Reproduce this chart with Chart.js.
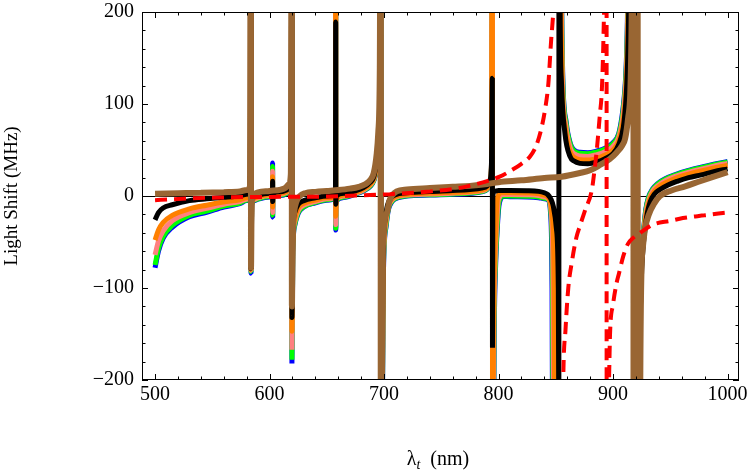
<!DOCTYPE html>
<html>
<head>
<meta charset="utf-8">
<script src="https://cdn.jsdelivr.net/npm/chart.js@4.4.1/dist/chart.umd.min.js"></script>
<style>
  html, body { margin: 0; padding: 0; background: #fff; }
  #wrap { width: 750px; height: 472px; position: relative; }
</style>
</head>
<body>
<div id="wrap"><canvas id="plot"></canvas></div>
<script>
const SERIF = "'Liberation Serif', 'Times New Roman', serif";

// axis ranges and tick labels
const xRange = [488.6, 1010];
const yRange = [-200, 200];
const xTicks = [500, 600, 700, 800, 900, 1000];
const yTicks = [-200, -100, 0, 100, 200];
const minorStep = 20;

// [wavelength nm, light shift MHz]
const redDashed = [
  [500, -4.5], [515, -3.5], [533, -2.5], [560, -1.5], [600, -1], [653, -0.5], [676, 0.5],
  [705, 2], [740, 5], [765, 8.5], [781, 13], [792, 17], [801, 21], [810, 27], [820, 35],
  [827.5, 43], [833, 55], [837.7, 75], [841, 97], [843.5, 122], [846.4, 177], [847.9, 200],
  [850, 400], [851.5, 3000], [852.2, null], [853.5, -3000], [855, -500], [856.5, -200],
  [858.5, -145], [860.9, -100], [864, -72], [868, -45], [871.2, -32], [876, -14], [881.4, 6],
  [884, 30], [885.8, 50], [888.6, 90], [890, 110], [891.2, 150], [892.2, 200], [893.5, 400],
  [894.3, 3000], [894.45, -3000], [895.5, -400], [896.5, -200], [897.4, -149], [900, -118],
  [903.2, -94], [905, -85], [909, -65], [913, -52], [918, -45], [923.6, -40], [935, -31],
  [950, -27], [961, -24], [980, -21], [996, -18.5], [1000, -18]
];

const brownLine = [
  [500, 2.5], [520, 3], [540, 3.5], [560, 4.2], [574, 5], [580, 6.5], [582.8, 10], [583.7, 400],
  [583.8, -78], [584.4, -6], [586, 1.5], [590, 4], [600, 5.5], [610, 7], [614, 9], [617, 13],
  [618.6, 24], [619.4, 400], [619.5, -120], [620.2, -45], [621.5, -18], [623.5, -6], [626.5, 0],
  [631, 3], [640, 4.5], [650, 5.5], [660, 6.5], [670, 8], [678, 10], [684, 13], [688, 17.5],
  [691, 25], [693.5, 45], [695, 70], [696.3, 140], [697, 400], [697.15, -400], [698.9, -58],
  [702.4, -18.5], [704.5, -6], [706.7, 0], [711, 5], [720, 7], [740, 8.6], [760, 10], [775, 11],
  [790, 13], [800, 15], [820, 17], [840, 19.5], [855, 21], [871, 25], [880, 28], [889, 34],
  [897, 40], [903, 47], [908, 55], [910.5, 62], [913.3, 86], [915, 110], [916.3, 200],
  [917.2, 600], [917.8, 3000], [917.9, -3000], [921.3, -3000], [921.45, 3000], [921.6, -3000],
  [923.8, -196], [925.7, -60], [928, -35], [931, -21], [936, -8], [941, 0], [951, 6],
  [963, 10.5], [976, 16], [988, 21], [1000, 26]
];

const blackLine = [
  [500, -26], [503, -18], [507, -13], [515, -9.5], [530, -5], [545, -3], [560, -1.5], [574, 0.3],
  [580, 1.8], [583.2, 4], [583.75, 400], [583.85, -79], [584.4, -4], [586, -1], [590, 1],
  [600, 3], [602.6, 5], [602.65, 16], [602.75, -6], [602.9, 3], [610, 4.5], [615, 6.5],
  [617.8, 10], [618.9, 20], [619.45, 400], [619.55, -132], [620.3, -40], [622, -18], [625, -9],
  [630, -5], [640, -2], [650, 0], [657.6, 2], [657.75, 189], [657.85, -9], [658.2, 0], [665, 3],
  [675, 5.5], [682, 9], [688, 15], [691, 21], [693.6, 38], [695.2, 65], [696.4, 140],
  [697.05, 400], [697.2, -400], [699, -70], [701, -25], [703, -10], [706, -2], [710, 1.5],
  [720, 3.5], [740, 5], [760, 6], [775, 7], [785, 8.5], [790, 11], [792.5, 17], [793.8, 35],
  [794.6, 128], [794.7, -165], [795, 0], [796.5, 5], [800, 6], [810, 6], [825, 5.8], [835, 5],
  [840, 3.5], [843, 1.5], [846, -4], [847.8, -11], [850.5, -35], [852.2, -100], [852.5, -200],
  [852.65, -400], [852.75, 400], [853.2, 400], [853.8, 200], [855, 122], [858, 68], [862.4, 43],
  [866, 38], [871, 35.5], [878, 35], [886, 37], [893, 40.5], [900, 46], [905, 56], [909, 75],
  [911, 100], [912, 122], [913.3, 177], [914, 250], [915.5, 700], [916, null], [922.6, -400],
  [923.2, -200], [924.5, -100], [926, -60], [928, -35], [930, -18], [932.5, -6], [936, 2],
  [941, 7], [948, 12], [956, 16], [966, 20], [977, 23], [988, 26.5], [1000, 29.5]
];

const orangeLine = [
  [500, -48], [503, -37], [507, -29], [515, -21], [530, -14], [545, -10], [560, -6.5], [574, -4],
  [580, -2], [583.2, 2], [583.75, 400], [583.85, -80], [584.4, -6], [586, -2.5], [590, -1],
  [600, 1.5], [602.6, 3], [602.65, 21], [602.75, -12], [602.9, 1.5], [610, 3], [615, 5],
  [617.8, 8.5], [618.9, 18], [619.45, 400], [619.55, -147], [620.3, -50], [622, -25], [625, -13],
  [630, -8], [640, -4.5], [650, -2], [657.6, 0.5], [657.75, 400], [657.85, -22], [658.2, -3],
  [665, 1], [675, 4], [682, 7.5], [688, 13], [691, 19], [693.8, 36], [695.4, 62], [696.6, 135],
  [697.1, 400], [697.25, -400], [699.2, -75], [701.3, -28], [703.3, -12], [706.3, -4],
  [710, -0.5], [720, 1.8], [740, 3.2], [760, 4], [775, 5], [785, 6.5], [790, 9], [792.5, 15],
  [793.8, 32], [794.6, 400], [794.75, -400], [795.5, -150], [796.5, -70], [797.7, -33],
  [798.8, -5], [800, 1], [802.6, 3.5], [810, 3.5], [825, 3.3], [835, 2.5], [840, 1], [843, -1],
  [846.8, -20], [848, -50], [848.5, -100], [848.8, -200], [849.1, -400], [850, null],
  [853.6, 400], [854.6, 200], [855.5, 122], [858.5, 72], [862.5, 48], [866, 42], [871, 39.5],
  [878, 39], [886, 41], [893, 44.5], [900, 50], [905, 60], [908.7, 80], [910.8, 105],
  [911.8, 128], [913, 180], [913.8, 260], [915, 600], [916, null], [922.4, -400], [922.8, -200],
  [924.2, -100], [925.6, -60], [927.5, -35], [929.5, -17], [932, -4], [935.5, 4], [940, 10],
  [947, 15], [955, 19.5], [965, 23.5], [976, 27], [988, 30.5], [1000, 33.5]
];

const pinkLine = [
  [500, -64], [503, -49], [507, -38], [515, -27], [530, -18], [545, -13.5], [560, -9], [574, -6],
  [580, -3.5], [583.2, 0.5], [583.75, 400], [583.85, -81], [584.4, -8], [586, -4], [590, -2],
  [600, 0.5], [602.6, 2], [602.65, 27], [602.75, -18], [602.9, 0.5], [610, 2], [615, 4],
  [617.8, 7.5], [618.9, 16], [619.45, 400], [619.55, -167], [620.3, -55], [622, -28], [625, -16],
  [630, -10], [640, -6], [650, -3], [657.6, -0.5], [657.75, 400], [657.85, -31], [658.2, -4],
  [665, 0], [675, 3], [682, 6.5], [688, 12], [691, 18], [693.9, 35], [695.5, 60], [696.7, 130],
  [697.15, 400], [697.3, -400], [699.3, -78], [701.5, -30], [703.5, -13], [706.5, -5],
  [710, -1.5], [720, 1], [740, 2.2], [760, 3], [775, 4], [785, 5.5], [790, 8], [792.5, 14],
  [793.8, 30], [794.6, 400], [794.8, -400], [795.8, -150], [797, -70], [798.3, -33],
  [799.5, -8], [801, -1], [803.5, 1.5], [810, 1.5], [825, 1.3], [835, 0.5], [840, -1],
  [843, -2.5], [846.2, -20], [847.1, -50], [847.6, -100], [847.9, -200], [848.2, -400],
  [850, null], [853.9, 400], [854.9, 200], [855.8, 125], [858.8, 76], [862.7, 52], [866, 46],
  [871, 43.5], [878, 43], [886, 45], [893, 48], [900, 54], [905, 64], [908.5, 85], [910.5, 110],
  [911.6, 132], [912.8, 185], [913.6, 270], [915, 700], [916, null], [922.2, -400],
  [922.6, -200], [924, -100], [925.3, -60], [927.2, -35], [929, -16], [931.5, -3], [935, 6],
  [939.5, 11.5], [946, 17], [955, 21.5], [965, 25.5], [976, 29], [988, 32.5], [1000, 35.5]
];

const greenLine = [
  [500, -75], [503, -57], [507, -44], [515, -32], [530, -21], [545, -16.5], [560, -11],
  [574, -7.6], [580, -4.5], [583.2, -0.5], [583.75, 400], [583.85, -82], [584.4, -9], [586, -5],
  [590, -3], [600, -0.5], [602.6, 1], [602.65, 32], [602.75, -21], [602.9, -0.5], [610, 1],
  [615, 3], [617.8, 6.5], [618.9, 15], [619.45, 400], [619.55, -178], [620.3, -60], [622, -31],
  [625, -18], [630, -11.5], [640, -7], [650, -4], [657.6, -1.5], [657.75, 400], [657.85, -35],
  [658.2, -5], [665, -1], [675, 2.5], [682, 6], [688, 11], [691, 17], [694, 34], [695.6, 58],
  [696.8, 125], [697.2, 400], [697.35, -400], [699.4, -80], [701.7, -32], [703.7, -14],
  [706.7, -6], [710, -2.5], [720, 0.3], [740, 1.4], [760, 2.2], [775, 3.2], [785, 4.8],
  [790, 7.3], [792.5, 13], [793.8, 29], [794.6, 400], [794.85, -400], [796, -150], [797.4, -70],
  [798.8, -33], [800, -10], [801.3, -3], [804.2, 0], [810, 0], [825, -0.2], [835, -1],
  [840, -2.5], [843, -3.5], [845.8, -20], [846.7, -50], [847.1, -100], [847.4, -200],
  [847.7, -400], [850, null], [854.1, 400], [855.1, 200], [856, 128], [859, 79], [863, 55],
  [866, 49], [871, 46.5], [878, 46], [886, 48], [893, 51], [900, 57], [905, 67], [908.3, 88],
  [910.3, 112], [911.4, 135], [912.6, 188], [913.4, 280], [915, 800], [916, null],
  [922.1, -400], [922.5, -200], [923.8, -100], [925, -60], [926.9, -35], [928.7, -15],
  [931, -2], [934.5, 7], [939, 13], [946, 18.5], [955, 23], [965, 27], [976, 30.5], [988, 34],
  [1000, 37]
];

const blueLine = [
  [500, -78], [503, -60], [507, -46], [515, -34], [530, -22.5], [545, -17.7], [560, -12],
  [574, -8.3], [580, -5], [583.2, -1], [583.75, 400], [583.85, -84], [584.4, -10], [586, -5.5],
  [590, -3.5], [600, -1], [602.6, 0.5], [602.65, 36], [602.75, -23], [602.9, -1], [610, 0.5],
  [615, 2.5], [617.8, 6], [618.9, 14], [619.45, 400], [619.55, -182], [620.3, -62], [622, -32],
  [625, -19], [630, -12], [640, -7.5], [650, -4.5], [657.6, -2], [657.75, 400], [657.85, -37],
  [658.2, -5.5], [665, -1.5], [675, 2], [682, 5.5], [688, 10.5], [691, 16.5], [694.1, 33],
  [695.7, 57], [696.85, 123], [697.2, 400], [697.35, -400], [699.5, -81], [701.8, -33],
  [703.8, -15], [706.8, -6.5], [710, -3], [720, 0], [740, 1], [760, 1.8], [775, 2.8],
  [785, 4.4], [790, 7], [792.5, 12.5], [793.8, 28], [794.6, 400], [794.9, -400], [796.2, -150],
  [797.6, -70], [799, -33], [800.3, -11], [801.6, -4], [804.5, -0.5], [810, -0.8], [825, -1],
  [835, -1.8], [840, -3], [843, -4], [845.5, -20], [846.3, -50], [846.7, -100], [847, -200],
  [847.3, -400], [850, null], [854.2, 400], [855.2, 200], [856.1, 129], [859.1, 80], [863, 56],
  [866, 50], [871, 47.5], [878, 47], [886, 49], [893, 52], [900, 58], [905, 68], [908.2, 90],
  [910.2, 114], [911.3, 137], [912.5, 190], [913.3, 285], [915, 850], [916, null],
  [922, -400], [922.4, -200], [923.7, -100], [924.9, -60], [926.8, -35], [928.6, -14.5],
  [930.9, -1.5], [934.4, 7.5], [938.9, 13.5], [946, 19], [955, 23.5], [965, 27.5], [976, 31],
  [988, 34.5], [1000, 37.5]
];

const toPoints = arr => arr.map(([x, y]) => ({ x, y }));

function line(label, arr, color, width, dash) {
  return {
    label,
    data: toPoints(arr),
    borderColor: color,
    borderWidth: width,
    borderDash: dash || [],
    fill: false,
    pointRadius: 0,
    cubicInterpolationMode: 'monotone',
    clip: 0
  };
}

const fmt = v => v < 0 ? '\u2212' + (-v) : String(v);

// frame around the plot with inward ticks on all four sides
const frame = {
  id: 'frame',
  afterDraw(chart) {
    const { ctx, chartArea: a, scales: { x, y } } = chart;
    ctx.save();
    ctx.strokeStyle = '#000';
    ctx.lineWidth = 1;
    ctx.strokeRect(Math.round(a.left) + 0.5, Math.round(a.top) + 0.5,
      Math.round(a.width) - 1, Math.round(a.height) - 1);
    ctx.beginPath();
    for (let v = xTicks[0]; v <= xTicks[xTicks.length - 1]; v += minorStep) {
      const len = v % 100 === 0 ? 6 : 3.5;
      const px = Math.round(x.getPixelForValue(v)) + 0.5;
      ctx.moveTo(px, a.bottom); ctx.lineTo(px, a.bottom - len);
      ctx.moveTo(px, a.top); ctx.lineTo(px, a.top + len);
    }
    for (let v = yRange[0]; v <= yRange[1]; v += minorStep) {
      const len = v % 100 === 0 ? 6 : 3.5;
      const py = Math.round(y.getPixelForValue(v)) + 0.5;
      ctx.moveTo(a.left, py); ctx.lineTo(a.left + len, py);
      ctx.moveTo(a.right, py); ctx.lineTo(a.right - len, py);
    }
    ctx.stroke();
    ctx.restore();
  }
};

// axis titles, x one has a subscript
const titles = {
  id: 'titles',
  afterDraw(chart) {
    const { ctx } = chart;
    ctx.save();
    ctx.fillStyle = '#000';
    ctx.textBaseline = 'alphabetic';

    ctx.font = '20px ' + SERIF;
    const lam = '\u03bb', rest = '  (nm)';
    const wLam = ctx.measureText(lam).width;
    const wRest = ctx.measureText(rest).width;
    ctx.font = 'italic 14px ' + SERIF;
    const wSub = ctx.measureText('t').width;
    let x0 = 438 - (wLam + wSub + wRest) / 2;
    const base = 465;
    ctx.font = '20px ' + SERIF;
    ctx.fillText(lam, x0, base);
    ctx.font = 'italic 14px ' + SERIF;
    ctx.fillText('t', x0 + wLam, base + 4);
    ctx.font = '20px ' + SERIF;
    ctx.fillText(rest, x0 + wLam + wSub, base);

    ctx.translate(16.5, 196);
    ctx.rotate(-Math.PI / 2);
    ctx.textAlign = 'center';
    ctx.font = '19px ' + SERIF;
    ctx.fillText('Light Shift (MHz)', 0, 0);
    ctx.restore();
  }
};

new Chart(document.getElementById('plot'), {
  type: 'line',
  data: {
    datasets: [
      line('ground', redDashed, '#ff0000', 4, [12, 7]),
      line('brown', brownLine, '#996633', 6),
      line('black', blackLine, '#000000', 5),
      line('orange', orangeLine, '#ff8000', 5),
      line('pink', pinkLine, '#ff8080', 5),
      line('green', greenLine, '#00ff00', 5),
      line('blue', blueLine, '#0000ff', 5)
    ]
  },
  options: {
    responsive: true,
    maintainAspectRatio: false,
    animation: false,
    events: [],
    layout: { padding: { top: 12, right: 11, left: 0, bottom: 0 } },
    elements: {
      point: { radius: 0 },
      line: { capBezierPoints: false, borderJoinStyle: 'bevel', borderCapStyle: 'butt' }
    },
    plugins: {
      legend: { display: false },
      tooltip: { enabled: false }
    },
    scales: {
      x: {
        type: 'linear',
        min: xRange[0],
        max: xRange[1],
        afterBuildTicks: s => { s.ticks = xTicks.map(v => ({ value: v })); },
        afterFit: s => { s.height = 92; s.paddingLeft = 0; s.paddingRight = 0; },
        grid: { display: false, drawTicks: false },
        border: { display: false },
        ticks: {
          padding: 3,
          maxRotation: 0,
          autoSkip: false,
          color: '#000',
          font: { family: SERIF, size: 20 },
          callback: v => fmt(v)
        }
      },
      y: {
        type: 'linear',
        min: yRange[0],
        max: yRange[1],
        afterBuildTicks: s => { s.ticks = yTicks.map(v => ({ value: v })); },
        afterFit: s => { s.width = 142; s.paddingTop = 0; s.paddingBottom = 0; },
        grid: {
          drawTicks: false,
          lineWidth: 1,
          color: c => (c.tick && c.tick.value === 0) ? '#000' : 'rgba(0,0,0,0)'
        },
        border: { display: false },
        ticks: {
          padding: 8,
          autoSkip: false,
          color: '#000',
          font: { family: SERIF, size: 20 },
          callback: v => fmt(v)
        }
      }
    }
  },
  plugins: [frame, titles]
});
</script>
</body>
</html>
